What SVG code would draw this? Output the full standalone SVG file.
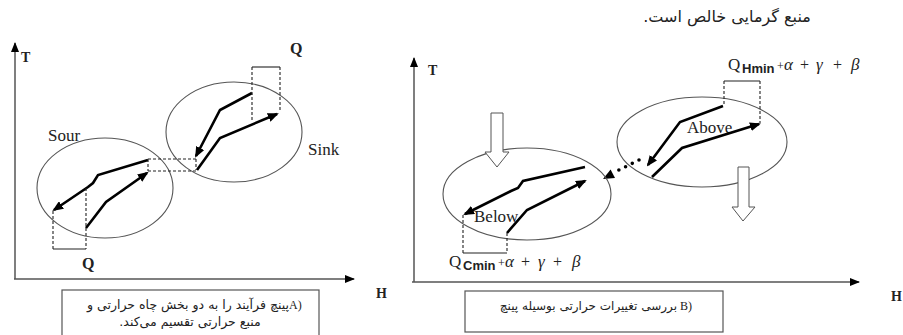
<svg xmlns="http://www.w3.org/2000/svg" width="903" height="335" viewBox="0 0 903 335">
<style>
.ax{stroke:#555;stroke-width:1.5;fill:none}
.el{stroke:#555;stroke-width:1.1;fill:none}
.st{stroke:#000;stroke-width:2.6;fill:none;stroke-linejoin:miter;marker-end:url(#ah)}
.ds{stroke:#222;stroke-width:1.1;fill:none;stroke-dasharray:3 2}
.so{stroke:#222;stroke-width:1.1;fill:none}
.hb{fill:#fff;stroke:#555;stroke-width:1}
.lat{font-family:"Liberation Serif",serif;fill:#222}
.b{font-weight:bold}
.fa{font-family:"DejaVu Sans",sans-serif;fill:#222}
.sub{font-family:"Liberation Sans",sans-serif;font-weight:bold}
.gr{font-style:italic}
.box{fill:#fff;stroke:#555;stroke-width:1.2}
</style>
<defs>
<marker id="ah" markerWidth="11" markerHeight="9" refX="9" refY="4.5" orient="auto" markerUnits="userSpaceOnUse"><path d="M0,0 L11,4.5 L0,9 z" fill="#000"/></marker>
<marker id="axh" markerWidth="10" markerHeight="8" refX="9" refY="4" orient="auto" markerUnits="userSpaceOnUse"><path d="M0,0 L10,4 L0,8 z" fill="#000"/></marker>
</defs>
<rect width="903" height="335" fill="#fff"/>
<text id="topnote" class="fa" x="727" y="22" font-size="16" direction="rtl" text-anchor="middle">منبع گرمایی خالص است.</text>

<!-- Panel A -->
<g id="panelA-axes">
<line class="ax" x1="15" y1="279" x2="15" y2="43" marker-end="url(#axh)"/>
<line class="ax" x1="14" y1="279" x2="354" y2="279" marker-end="url(#axh)"/>
<text class="lat b" x="21" y="62" font-size="14">T</text>
<text class="lat b" x="376" y="298" font-size="14">H</text>
</g>
<g id="source">
<ellipse class="el" cx="105" cy="188" rx="68" ry="50"/>
<text class="lat" x="48" y="141" font-size="17">Sour</text>
<polyline class="st" points="148,160 98,175 93,183 88,187 54,210"/>
<polyline class="st" points="86,228 106,202 147,173"/>
<line class="ds" x1="53" y1="211" x2="53" y2="249"/>
<line class="ds" x1="86" y1="188" x2="86" y2="249"/>
<line class="so" x1="53" y1="249" x2="86" y2="249"/>
<text class="lat b" x="82" y="269" font-size="16">Q</text>
</g>
<g id="sink">
<ellipse class="el" cx="234" cy="132" rx="68" ry="50"/>
<text class="lat" x="308" y="155" font-size="17">Sink</text>
<polyline class="st" points="252,93 220,110 196,156"/>
<polyline class="st" points="197,170 220,138 277,114"/>
<line class="ds" x1="252" y1="67" x2="252" y2="120"/>
<line class="ds" x1="280" y1="67" x2="280" y2="112"/>
<line class="so" x1="252" y1="67" x2="280" y2="67"/>
<text class="lat b" x="290" y="54" font-size="16">Q</text>
</g>
<g id="connectors">
<line class="ds" x1="148" y1="159" x2="197" y2="159"/>
<line class="ds" x1="148" y1="171" x2="197" y2="171"/>
<line class="ds" x1="148" y1="159" x2="148" y2="171"/>
<line class="ds" x1="196" y1="159" x2="196" y2="170"/>
<line x1="639" y1="160" x2="615" y2="172" stroke="#000" stroke-width="3.6" stroke-linecap="round" stroke-dasharray="0 7.5"/>
<polygon points="603,179 615,178 610.6,169.6" fill="#000"/>
</g>
<g id="captionA">
<rect class="box" x="62" y="290" width="257" height="50"/>
<text class="fa" x="289" y="309" font-size="12.5" text-anchor="end">پینچ فرآیند را به دو بخش چاه حرارتی و</text>
<text class="lat" x="289" y="309" font-size="12">A)</text>
<text class="fa" x="190" y="326" font-size="12.5" direction="rtl" text-anchor="middle">منبع حرارتی تقسیم می‌کند.</text>
</g>

<!-- Panel B -->
<g id="panelB-axes">
<line class="ax" x1="414" y1="282" x2="414" y2="58" marker-end="url(#axh)"/>
<line class="ax" x1="412" y1="282" x2="859" y2="282" marker-end="url(#axh)"/>
<text class="lat b" x="428" y="75" font-size="14">T</text>
<text class="lat b" x="891" y="301" font-size="14">H</text>
</g>
<g id="above">
<ellipse class="el" cx="702" cy="142" rx="85" ry="45"/>
<text class="lat" x="687" y="133" font-size="17">Above</text>
<polyline class="st" points="723,106 680,122 648,165"/>
<polyline class="st" points="652,177 682,148 759,124"/>
<line class="ds" x1="724" y1="81" x2="724" y2="106"/>
<line class="ds" x1="760" y1="81" x2="760" y2="123"/>
<line class="so" x1="724" y1="81" x2="760" y2="81"/>
<text class="lat" y="70" font-size="17"><tspan x="728">Q</tspan><tspan class="sub" x="742" y="73" font-size="13">Hmin</tspan><tspan x="777" y="70" font-size="12">+</tspan><tspan class="gr" x="784" font-size="17">α</tspan><tspan x="800" font-size="16">+</tspan><tspan class="gr" x="816" font-size="17">γ</tspan><tspan x="833" font-size="16">+</tspan><tspan class="gr" x="851" font-size="17">β</tspan></text>
</g>
<g id="below">
<ellipse class="el" cx="527" cy="194" rx="84" ry="46"/>
<text class="lat" x="474" y="222" font-size="17">Below</text>
<polyline class="st" points="585,167 523,181 518,188 511,191 465,214"/>
<polyline class="st" points="507,233 527,210 585,181"/>
<line class="ds" x1="463" y1="215" x2="463" y2="253"/>
<line class="ds" x1="507" y1="233" x2="507" y2="253"/>
<line class="so" x1="463" y1="253" x2="507" y2="253"/>
<text class="lat" y="267" font-size="17"><tspan x="449">Q</tspan><tspan class="sub" x="463" y="270" font-size="13">Cmin</tspan><tspan x="498" y="267" font-size="12">+</tspan><tspan class="gr" x="505" font-size="17">α</tspan><tspan x="521" font-size="16">+</tspan><tspan class="gr" x="538" font-size="17">γ</tspan><tspan x="553" font-size="16">+</tspan><tspan class="gr" x="572" font-size="17">β</tspan></text>
</g>
<g id="hollow-arrows">
<path class="hb" d="M491,113 H503 V152 H509 L497,167 L485,152 H491 Z"/>
<path class="hb" d="M738,167 H749 V207 H755 L743,221 L732,207 H738 Z"/>
</g>
<g id="captionB">
<rect class="box" x="465" y="291" width="258" height="41"/>
<text class="fa" x="677" y="310" font-size="12" text-anchor="end">بررسی تغییرات حرارتی بوسیله پینچ</text>
<text class="lat" x="680" y="310" font-size="12">B)</text>
</g>
</svg>
